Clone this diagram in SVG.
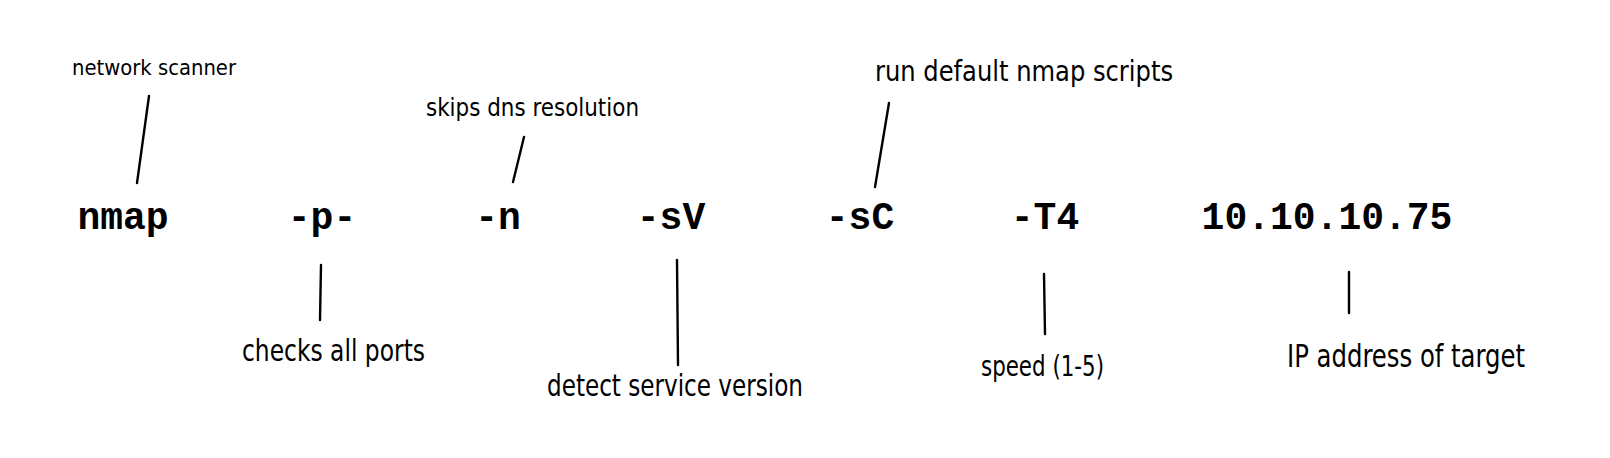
<svg xmlns="http://www.w3.org/2000/svg" width="1610" height="458" viewBox="0 0 1610 458">
<style>
.cmd{font-family:"Liberation Mono","DejaVu Sans Mono",monospace;font-weight:bold;font-size:38px;fill:#000;text-anchor:middle}
.note{font-family:"Liberation Sans Narrow","DejaVu Sans Condensed","Liberation Sans",sans-serif;fill:#000;font-weight:normal}
.con line{stroke:#000;stroke-width:2.4;stroke-linecap:round;fill:none}
</style>
<rect width="1610" height="458" fill="#fff"/>
<g id="node-nmap"><text class="cmd" x="123" y="229">nmap</text></g>
<g id="node-p"><text class="cmd" x="322" y="229">-p-</text></g>
<g id="node-n"><text class="cmd" x="498" y="229">-n</text></g>
<g id="node-sV"><text class="cmd" x="671" y="229">-sV</text></g>
<g id="node-sC"><text class="cmd" x="860" y="229">-sC</text></g>
<g id="node-T4"><text class="cmd" x="1045" y="229">-T4</text></g>
<g id="node-ip"><text class="cmd" x="1327" y="229">10.10.10.75</text></g>
<g id="note-network-scanner"><text class="note" x="72" y="75" font-size="22" textLength="164" lengthAdjust="spacingAndGlyphs">network scanner</text></g>
<g id="note-skips-dns"><text class="note" x="426" y="116" font-size="25" textLength="213" lengthAdjust="spacingAndGlyphs">skips dns resolution</text></g>
<g id="note-run-default"><text class="note" x="875" y="81" font-size="28" textLength="298" lengthAdjust="spacingAndGlyphs">run default nmap scripts</text></g>
<g id="note-checks-all-ports"><text class="note" x="242" y="361" font-size="30" textLength="183" lengthAdjust="spacingAndGlyphs">checks all ports</text></g>
<g id="note-detect-service"><text class="note" x="547" y="396" font-size="30" textLength="256" lengthAdjust="spacingAndGlyphs">detect service version</text></g>
<g id="note-speed"><text class="note" x="981" y="376" font-size="29" textLength="123" lengthAdjust="spacingAndGlyphs">speed (1-5)</text></g>
<g id="note-ip-target"><text class="note" x="1287" y="367" font-size="32" textLength="238" lengthAdjust="spacingAndGlyphs">IP address of target</text></g>
<g id="connectors" class="con">
<line x1="149" y1="96" x2="137" y2="183"/>
<line x1="524" y1="137" x2="513" y2="182"/>
<line x1="889" y1="103" x2="875" y2="187"/>
<line x1="321" y1="265" x2="320" y2="320"/>
<line x1="677" y1="260" x2="678" y2="365"/>
<line x1="1044" y1="274" x2="1045" y2="334"/>
<line x1="1349" y1="272" x2="1349" y2="313"/>
</g>
</svg>
